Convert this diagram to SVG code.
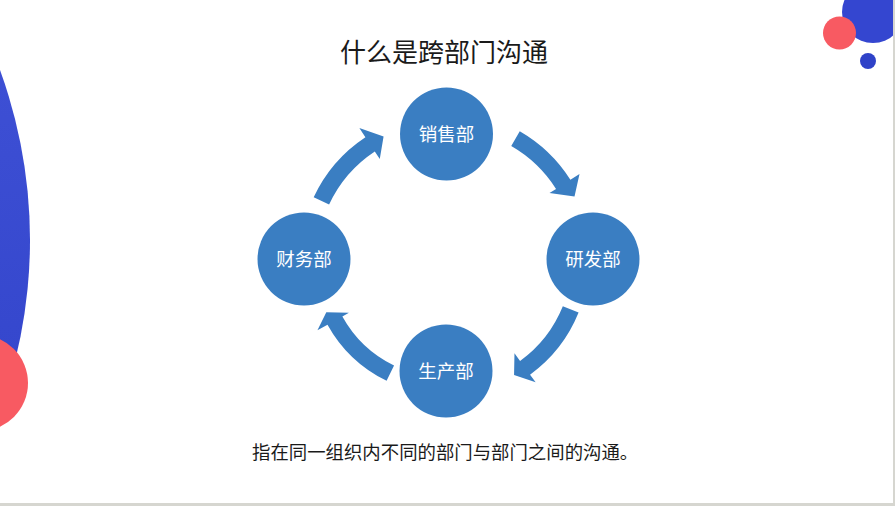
<svg xmlns="http://www.w3.org/2000/svg" width="895" height="506" viewBox="0 0 895 506">
  <defs>
    <linearGradient id="bigBlue" x1="0" y1="0" x2="0" y2="1">
      <stop offset="0" stop-color="#4759dc"/>
      <stop offset="1" stop-color="#2a3cc4"/>
    </linearGradient>
    <style>
      .node { fill: #3a7ec2; }
      .arrow { fill: #3a7ec2; }
      .label { font-family: "Noto Sans CJK SC", "Liberation Sans", sans-serif; font-size: 18.5px; fill: #ffffff; text-anchor: middle; }
      .title { font-family: "Noto Sans CJK SC", "Liberation Sans", sans-serif; font-size: 26px; fill: #1a1a1a; text-anchor: middle; }
      .note { font-family: "Noto Sans CJK SC", "Liberation Sans", sans-serif; font-size: 18.4px; fill: #1a1a1a; }
    </style>
  </defs>

  <rect x="0" y="0" width="895" height="506" fill="#ffffff"/>

  <!-- decorations -->
  <g id="decor">
    <circle cx="-466" cy="240" r="496" fill="url(#bigBlue)"/>
    <circle cx="-20" cy="383" r="48" fill="#f85a62"/>
    <circle cx="873" cy="12" r="31" fill="#3446d0"/>
    <circle cx="839.5" cy="33" r="16.5" fill="#f85a62"/>
    <circle cx="868" cy="61" r="8" fill="#2f42c8"/>
    <rect x="893" y="0" width="2" height="506" fill="#d6d6d0"/>
    <rect x="0" y="503" width="895" height="3" fill="#d6d6d0"/>
  </g>

  <text class="title" x="444" y="62">什么是跨部门沟通</text>

  <!-- connectors -->
  <g id="connectors">
    <path class="arrow" d="M313.68,197.30 A146,146 0 0 1 365.42,137.25 L359.35,128.08 L383.58,136.49 L379.77,158.93 L374.80,151.43 A129,129 0 0 0 329.09,204.48 Z"/>
    <path class="arrow" d="M519.75,131.26 A147.5,147.5 0 0 1 570.40,179.75 L579.5,174.0 L574.5,196.5 L549.5,193.0 L556.06,188.88 A130.5,130.5 0 0 0 511.25,145.99 Z"/>
    <path class="arrow" d="M578.59,312.57 A143,143 0 0 1 530.06,374.69 L535.64,382.37 L514.06,375.01 L514.48,353.25 L520.06,360.93 A126,126 0 0 0 562.83,306.20 Z"/>
    <path class="arrow" d="M386.60,380.79 A135.5,135.5 0 0 1 327.49,324.69 L317.43,330.27 L326.33,312.28 L348.92,312.81 L342.36,316.45 A118.5,118.5 0 0 0 394.05,365.51 Z"/>
  </g>

  <g id="node-sales">
    <circle class="node" cx="446.5" cy="134" r="46.5"/>
    <text class="label" x="446.5" y="140.5">销售部</text>
  </g>
  <g id="node-rnd">
    <circle class="node" cx="593" cy="259" r="46.5"/>
    <text class="label" x="593" y="265.5">研发部</text>
  </g>
  <g id="node-production">
    <circle class="node" cx="446" cy="371" r="46.5"/>
    <text class="label" x="446" y="377.5">生产部</text>
  </g>
  <g id="node-finance">
    <circle class="node" cx="304" cy="259" r="46.5"/>
    <text class="label" x="304" y="265.5">财务部</text>
  </g>

  <text class="note" x="252" y="459">指在同一组织内不同的部门与部门之间的沟通。</text>
</svg>
